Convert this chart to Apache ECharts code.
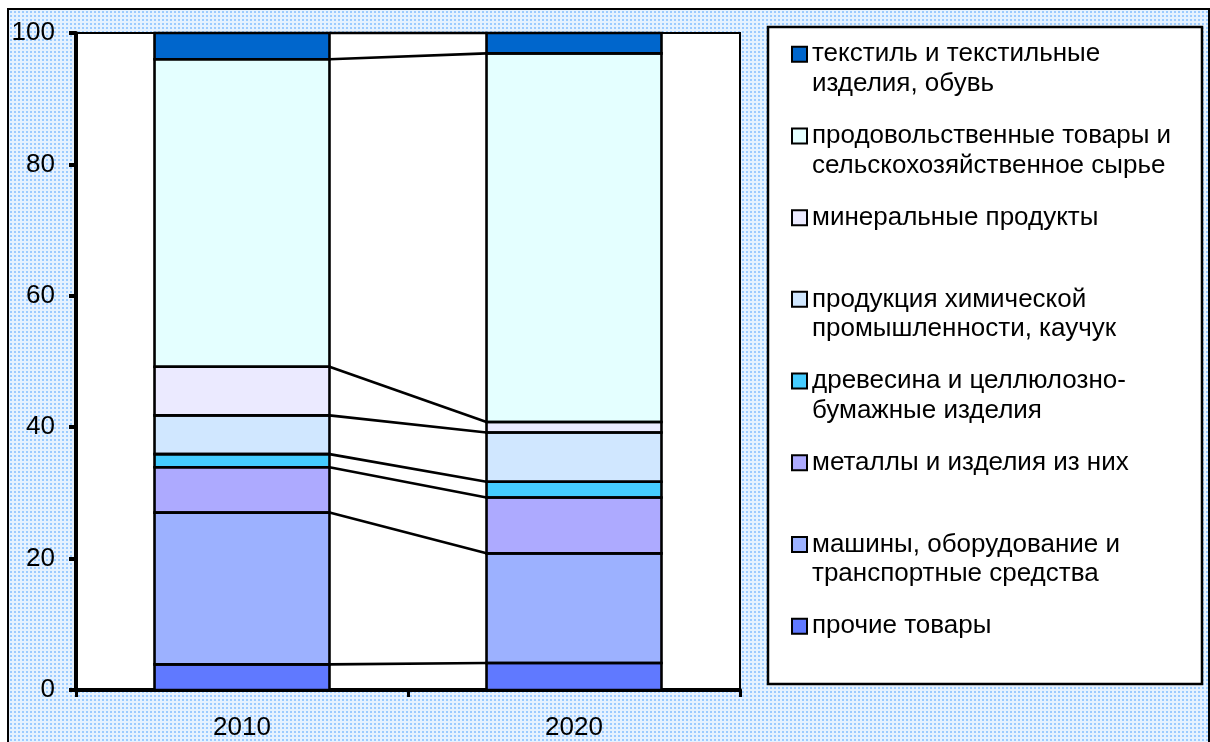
<!DOCTYPE html>
<html>
<head>
<meta charset="utf-8">
<script src="https://cdn.jsdelivr.net/npm/echarts@6/dist/echarts.min.js"></script>
<style>
  html, body { margin: 0; padding: 0; background: #fff; }
  #frame {
    position: absolute; left: 7px; top: 8px; width: 1199px; height: 760px;
    border: 2px solid #000;
    background-color: #e6f2ff;
    background-image: radial-gradient(circle, #9ccbff 0.9px, rgba(255,255,255,0) 1.3px);
    background-size: 4px 4px;
  }
  #chart { position: absolute; left: 0; top: 0; width: 1210px; height: 742px; }
</style>
</head>
<body>
<div id="frame"></div>
<div id="chart"></div>
<script>
// Years on the category axis
const years = ['2010', '2020'];

// Commodity groups, listed from the bottom of each column upwards (shares, %)
const other     = [3.9, 4.1];    // прочие товары
const machinery = [23.1, 16.7];  // машины, оборудование и транспортные средства
const metals    = [6.9, 8.5];    // металлы и изделия из них
const wood      = [2.0, 2.4];    // древесина и целлюлозно-бумажные изделия
const chemicals = [5.9, 7.5];    // продукция химической промышленности, каучук
const minerals  = [7.4, 1.6];    // минеральные продукты
const food      = [46.8, 56.1];  // продовольственные товары и сельскохозяйственное сырье
const textiles  = [4.0, 3.1];    // текстиль и текстильные изделия, обувь

// Legend labels, split onto the lines they wrap to
const labelOther     = ['прочие товары'];
const labelMachinery = ['машины, оборудование и', 'транспортные средства'];
const labelMetals    = ['металлы и изделия из них'];
const labelWood      = ['древесина и целлюлозно-', 'бумажные изделия'];
const labelChemicals = ['продукция химической', 'промышленности, каучук'];
const labelMinerals  = ['минеральные продукты'];
const labelFood      = ['продовольственные товары и', 'сельскохозяйственное сырье'];
const labelTextiles  = ['текстиль и текстильные', 'изделия, обувь'];

// Y-axis range
const yMin = 0, yMax = 100, yStep = 20;

const groups = [
  { label: labelOther,     values: other,     color: '#6079ff' },
  { label: labelMachinery, values: machinery, color: '#9cb1ff' },
  { label: labelMetals,    values: metals,    color: '#adaaff' },
  { label: labelWood,      values: wood,      color: '#45ccff' },
  { label: labelChemicals, values: chemicals, color: '#d0e7ff' },
  { label: labelMinerals,  values: minerals,  color: '#ebeaff' },
  { label: labelFood,      values: food,      color: '#e4ffff' },
  { label: labelTextiles,  values: textiles,  color: '#0066cc' }
];

const FONT = '"Liberation Sans", Arial, sans-serif';
const FONT_SIZE = 26;
const BAR_RATIO = 0.527;
const EDGE = 2.6;

// Series names: each label is padded so the swatch lines up with its first line
const nameOf = g => g.label.length === 1 ? '\n' + g.label[0] + '\n' : '\n' + g.label.join('\n');

// Filled segments (outlines are drawn separately so shared edges stay single)
const barSeries = groups.map(g => ({
  name: nameOf(g),
  type: 'bar',
  stack: 'total',
  barWidth: (BAR_RATIO * 100) + '%',
  data: g.values,
  itemStyle: { color: g.color, borderWidth: 0 },
  z: 3
}));

// Segment extents [category, bottom, top] and cumulative tops per group
const segments = [];
const tops = [];
let run = [0, 0];
groups.forEach(g => {
  const next = [run[0] + g.values[0], run[1] + g.values[1]];
  segments.push([0, run[0], next[0]], [1, run[1], next[1]]);
  tops.push([0, next[0], next[1]]);
  run = next;
});

// Black outline of every stacked segment
const outlines = {
  type: 'custom',
  name: 'outlines',
  data: segments,
  encode: { x: 0, y: [1, 2] },
  silent: true,
  z: 4,
  renderItem: function (params, api) {
    const c = api.value(0);
    const lo = api.coord([c, api.value(1)]);
    const hi = api.coord([c, api.value(2)]);
    const w = api.size([1, 0])[0] * BAR_RATIO;
    return {
      type: 'rect',
      shape: { x: lo[0] - w / 2, y: hi[1], width: w, height: lo[1] - hi[1] },
      style: { fill: null, stroke: '#000', lineWidth: EDGE }
    };
  }
};

// Series lines joining the top of each group between the two columns
const seriesLines = {
  type: 'custom',
  name: 'lines',
  data: tops,
  encode: { x: 0, y: [1, 2] },
  silent: true,
  z: 2,
  renderItem: function (params, api) {
    const p1 = api.coord([0, api.value(1)]);
    const p2 = api.coord([1, api.value(2)]);
    const half = api.size([1, 0])[0] * BAR_RATIO / 2;
    return {
      type: 'line',
      shape: { x1: p1[0] + half, y1: p1[1], x2: p2[0] - half, y2: p2[1] },
      style: { stroke: '#000', lineWidth: EDGE }
    };
  }
};

const chart = echarts.init(document.getElementById('chart'), null, { renderer: 'canvas' });
chart.setOption({
  animation: false,
  backgroundColor: 'transparent',
  textStyle: { fontFamily: FONT },
  graphic: [{
    type: 'rect',
    shape: { x: 768, y: 27, width: 434, height: 657 },
    style: { fill: '#fff', stroke: '#000', lineWidth: 2.5 },
    z: -1
  }],
  grid: {
    left: 76, right: 470, top: 33, bottom: 52,
    show: true, backgroundColor: '#fff', borderColor: '#000', borderWidth: 2
  },
  legend: {
    orient: 'vertical',
    left: 791, top: 10,
    padding: 0,
    itemGap: -6.8,
    itemWidth: 15, itemHeight: 15,
    icon: 'rect',
    selectedMode: false,
    data: groups.slice().reverse().map(nameOf),
    itemStyle: { borderColor: '#000', borderWidth: 2 },
    textStyle: { fontSize: FONT_SIZE, lineHeight: 29.5, color: '#000', fontFamily: FONT }
  },
  xAxis: {
    type: 'category',
    data: years,
    axisLine: { lineStyle: { color: '#000', width: 4 } },
    axisTick: { show: true, length: 7, lineStyle: { color: '#000', width: 3 } },
    axisLabel: { fontSize: FONT_SIZE, color: '#000', margin: 25, fontFamily: FONT },
    splitLine: { show: false }
  },
  yAxis: {
    type: 'value',
    min: yMin, max: yMax, interval: yStep,
    axisLine: { show: true, lineStyle: { color: '#000', width: 4 } },
    axisTick: { show: true, length: 7, lineStyle: { color: '#000', width: 4 } },
    axisLabel: { fontSize: FONT_SIZE, color: '#000', margin: 21, fontFamily: FONT },
    splitLine: { show: false }
  },
  series: barSeries.concat([outlines, seriesLines])
});
</script>
</body>
</html>
